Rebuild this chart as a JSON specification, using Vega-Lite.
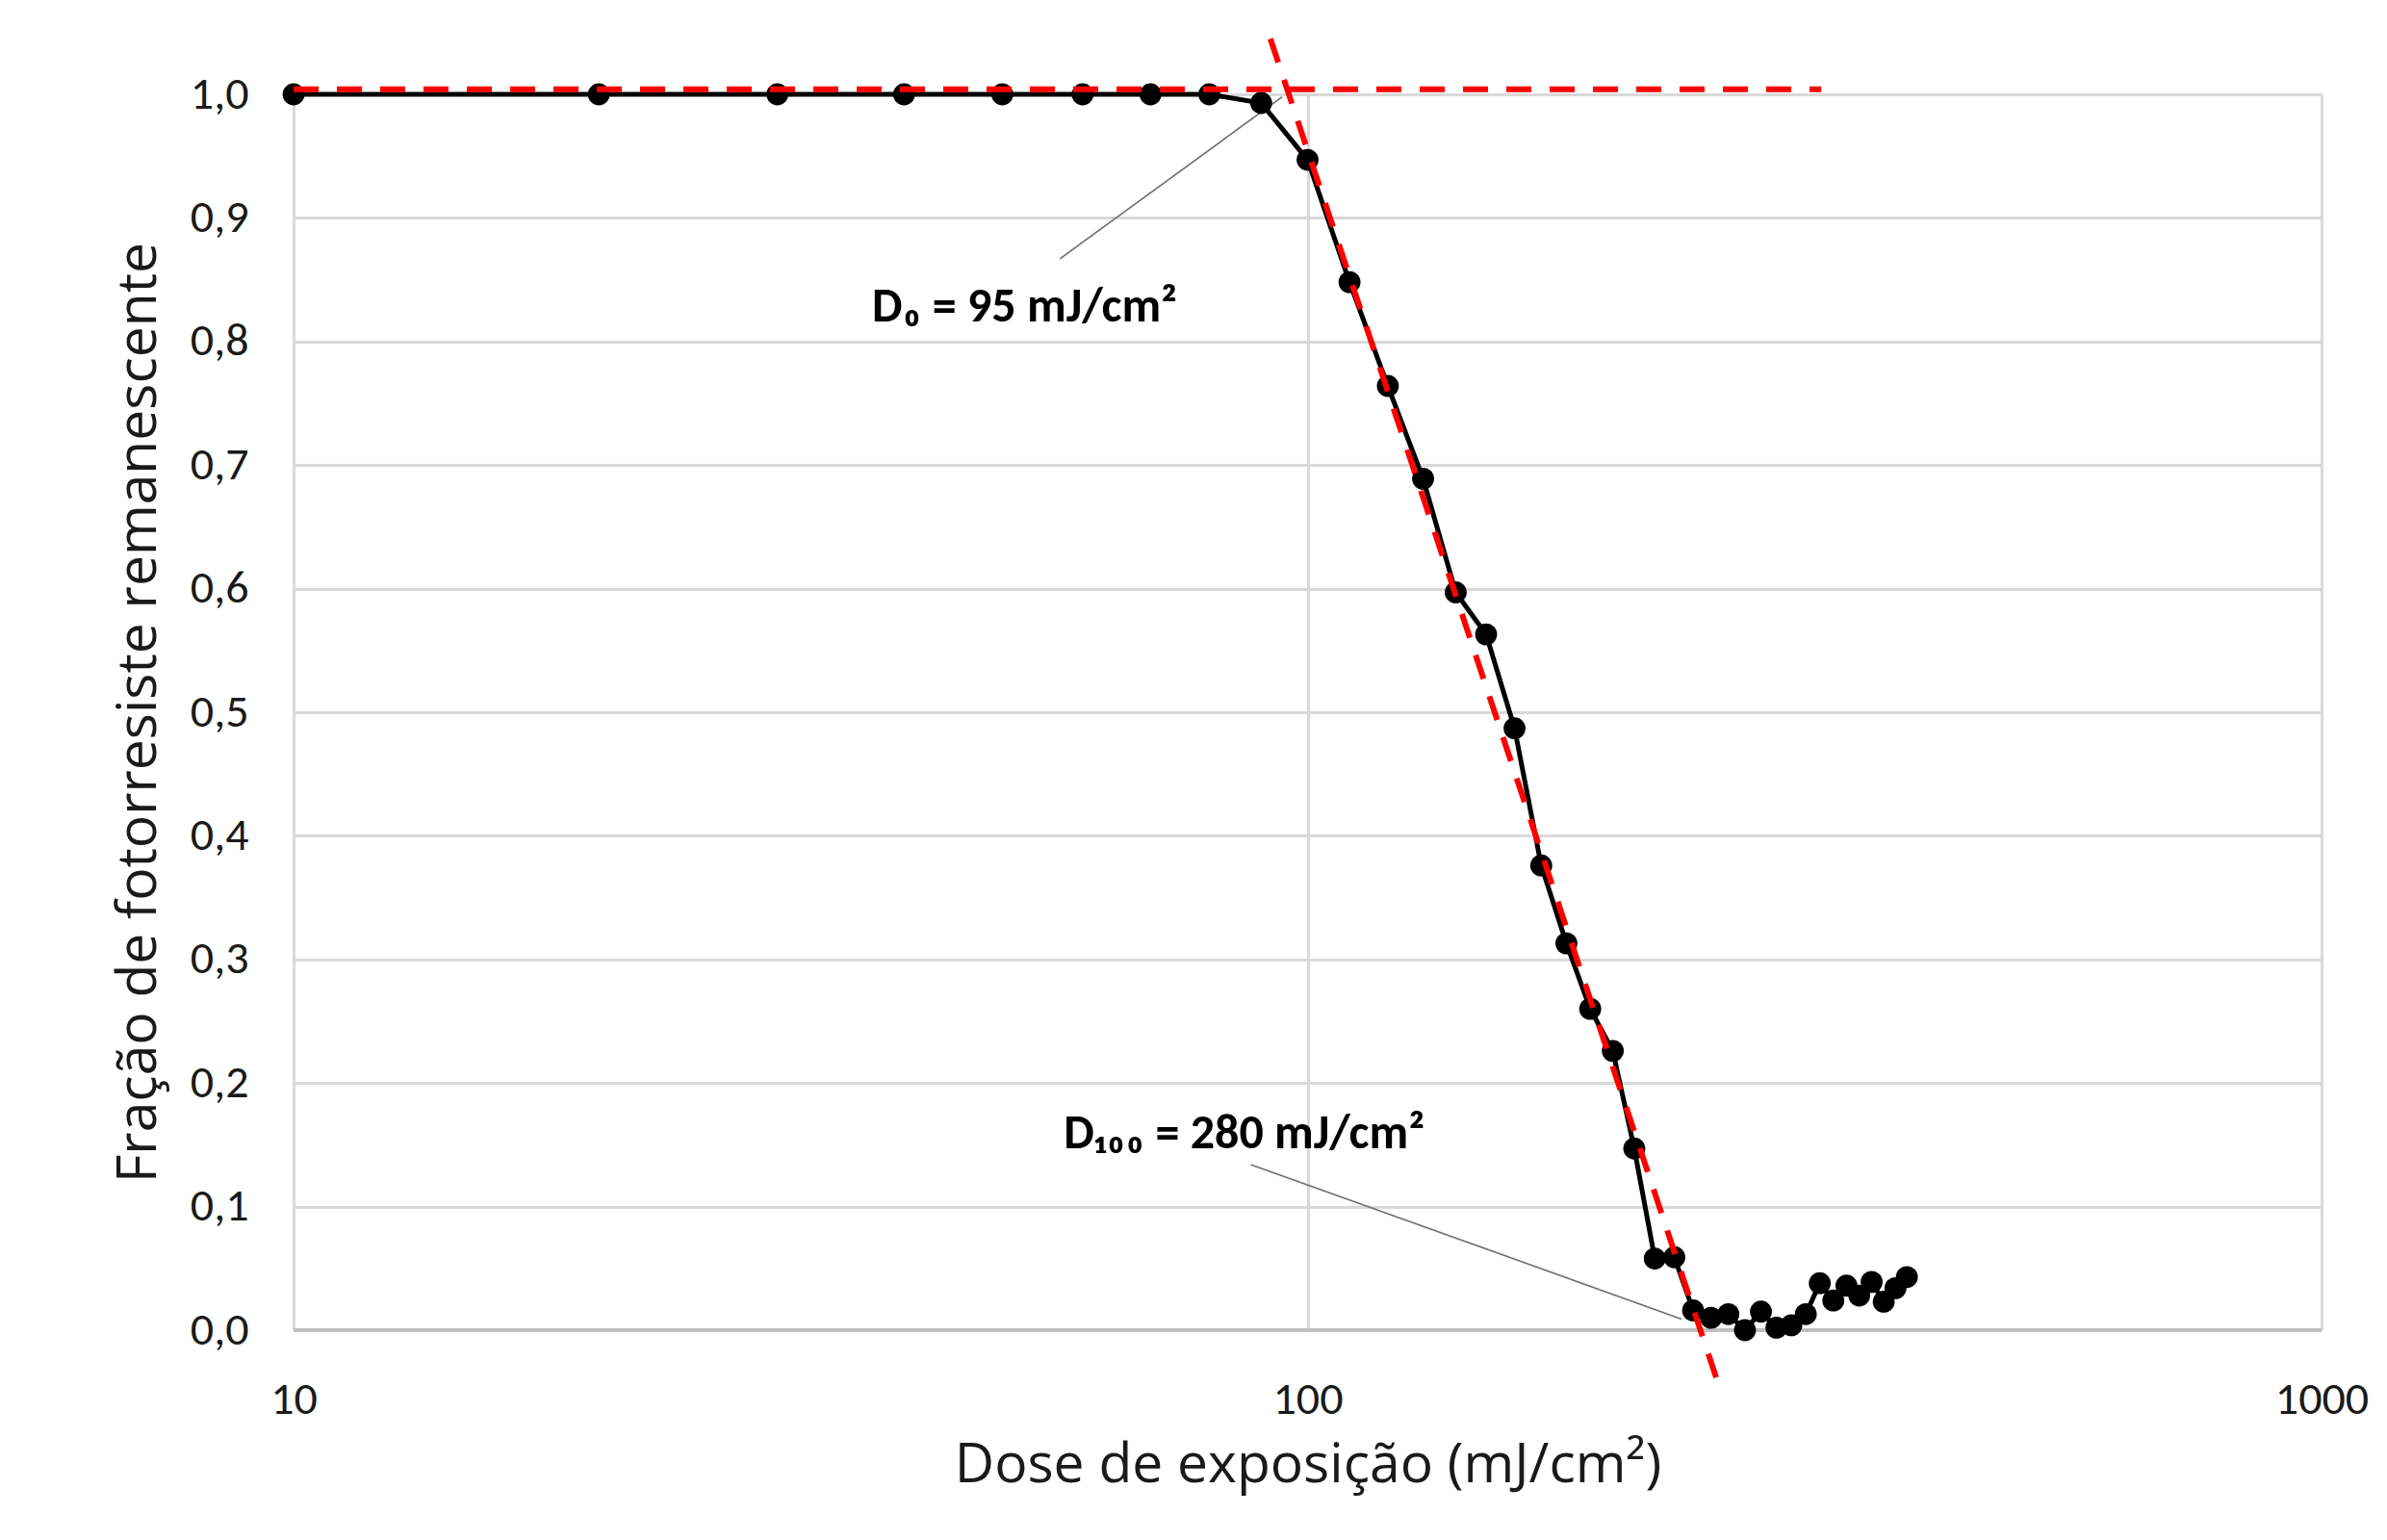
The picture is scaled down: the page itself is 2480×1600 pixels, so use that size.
{
  "$schema": "https://vega.github.io/schema/vega-lite/v6.json",
  "width": 2107,
  "height": 1284,
  "autosize": {"type": "none"},
  "padding": {"left": 305, "top": 98, "right": 68, "bottom": 218},
  "background": "#ffffff",
  "config": {
    "view": {"stroke": null},
    "axis": {
      "gridColor": "#d9d9d9",
      "gridWidth": 3,
      "ticks": false,
      "tickSize": 0,
      "domain": false,
      "labelFlush": false,
      "labelColor": "#1a1a1a",
      "titleColor": "#1a1a1a",
      "labelFont": "Liberation Sans Narrow, Carlito, Open Sans",
      "titleFont": "Open Sans",
      "titleFontWeight": "normal",
      "labelFontSize": 48,
      "titleFontSize": 57
    }
  },
  "datasets": {
    "curve": [
      {"dose": 10, "frac": 1.0}, {"dose": 20, "frac": 1.0}, {"dose": 30, "frac": 1.0},
      {"dose": 40, "frac": 1.0}, {"dose": 50, "frac": 1.0}, {"dose": 60, "frac": 1.0},
      {"dose": 70, "frac": 1.0}, {"dose": 80, "frac": 1.0}, {"dose": 90, "frac": 0.993},
      {"dose": 100, "frac": 0.947}, {"dose": 110, "frac": 0.848}, {"dose": 120, "frac": 0.764},
      {"dose": 130, "frac": 0.689}, {"dose": 140, "frac": 0.597}, {"dose": 150, "frac": 0.563},
      {"dose": 160, "frac": 0.487}, {"dose": 170, "frac": 0.376}, {"dose": 180, "frac": 0.313},
      {"dose": 190, "frac": 0.26}, {"dose": 200, "frac": 0.226}, {"dose": 210, "frac": 0.147},
      {"dose": 220, "frac": 0.058}, {"dose": 230, "frac": 0.059}, {"dose": 240, "frac": 0.016},
      {"dose": 250, "frac": 0.01}, {"dose": 260, "frac": 0.013}, {"dose": 270, "frac": 0.0},
      {"dose": 280, "frac": 0.015}, {"dose": 290, "frac": 0.002}, {"dose": 300, "frac": 0.004},
      {"dose": 310, "frac": 0.013}, {"dose": 320, "frac": 0.038}, {"dose": 330, "frac": 0.024},
      {"dose": 340, "frac": 0.036}, {"dose": 350, "frac": 0.028}, {"dose": 360, "frac": 0.039},
      {"dose": 370, "frac": 0.023}, {"dose": 380, "frac": 0.034}, {"dose": 390, "frac": 0.043}
    ],
    "fits": [
      {"line": "h", "dose": 10, "frac": 1.004},
      {"line": "h", "dose": 321, "frac": 1.004},
      {"line": "s", "dose": 91.9, "frac": 1.045},
      {"line": "s", "dose": 255, "frac": -0.047}
    ],
    "leaders": [
      {"line": "d0", "dose": 94.4, "frac": 0.998},
      {"line": "d0", "dose": 57.0, "frac": 0.867},
      {"line": "d100", "dose": 87.9, "frac": 0.134},
      {"line": "d100", "dose": 233.8, "frac": 0.009}
    ],
    "labels": [
      {"dose": 52.6, "frac": 0.816, "text": "D₀ = 95 mJ/cm²"},
      {"dose": 86.6, "frac": 0.147, "text": "D₁₀₀ = 280 mJ/cm²"}
    ]
  },
  "layer": [
    {
      "data": {"name": "leaders"},
      "mark": {"type": "line", "color": "#6e6e6e", "strokeWidth": 1.6},
      "encoding": {
        "x": {"field": "dose", "type": "quantitative",
              "scale": {"type": "log", "domain": [10, 1000]},
              "axis": {"values": [10, 100, 1000], "labelPadding": 48, "title": "Dose de exposição (mJ/cm²)", "titlePadding": 16, "labelExpr": "format(datum.value, 'd')"}},
        "y": {"field": "frac", "type": "quantitative",
              "scale": {"domain": [0, 1]},
              "axis": {"values": [0, 0.1, 0.2, 0.3, 0.4, 0.5, 0.6, 0.7, 0.8, 0.9, 1.0], "labelPadding": 47, "title": "Fração de fotorresiste remanescente", "titlePadding": 24, "labelExpr": "replace(format(datum.value, '.1f'), '.', ',')"}},
        "detail": {"field": "line"}
      }
    },
    {
      "data": {"name": "curve"},
      "mark": {"type": "rule", "color": "#bfbfbf", "strokeWidth": 4},
      "encoding": {"y": {"datum": 0}}
    },
    {
      "data": {"name": "curve"},
      "mark": {"type": "line", "color": "#000000", "strokeWidth": 5},
      "encoding": {
        "x": {"field": "dose", "type": "quantitative"},
        "y": {"field": "frac", "type": "quantitative"}
      }
    },
    {
      "data": {"name": "curve"},
      "mark": {"type": "circle", "color": "#000000", "opacity": 1, "size": 520},
      "encoding": {
        "x": {"field": "dose", "type": "quantitative"},
        "y": {"field": "frac", "type": "quantitative"}
      }
    },
    {
      "data": {"name": "fits"},
      "mark": {"type": "line", "color": "#ff0000", "strokeWidth": 6, "strokeDash": [26, 19]},
      "encoding": {
        "x": {"field": "dose", "type": "quantitative"},
        "y": {"field": "frac", "type": "quantitative"},
        "detail": {"field": "line"}
      }
    },
    {
      "data": {"name": "labels"},
      "mark": {"type": "text", "font": "Liberation Sans Narrow, Carlito, Open Sans", "fontWeight": "bold", "fontSize": 50, "align": "center", "baseline": "alphabetic", "color": "#000000"},
      "encoding": {
        "x": {"field": "dose", "type": "quantitative"},
        "y": {"field": "frac", "type": "quantitative"},
        "text": {"field": "text"}
      }
    }
  ]
}
